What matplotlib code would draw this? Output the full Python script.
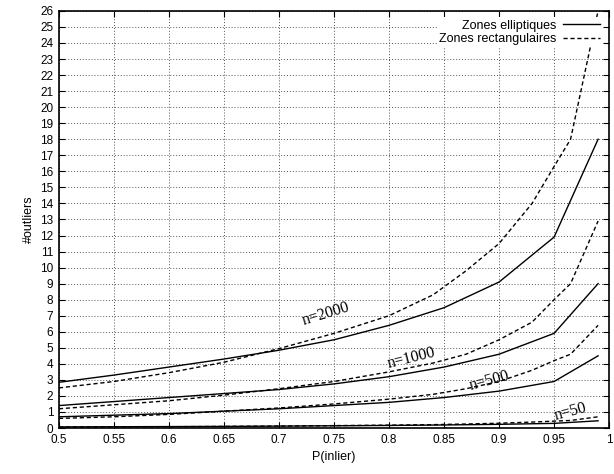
import matplotlib
matplotlib.use("Agg")
import matplotlib.pyplot as plt

plt.rcParams['font.family'] = 'Liberation Sans'

xs = [0.5, 0.55, 0.6, 0.65, 0.7, 0.75, 0.8, 0.85, 0.9, 0.95, 0.99]
ell_2000 = [2.85, 3.3, 3.8, 4.3, 4.85, 5.5, 6.4, 7.5, 9.1, 11.9, 18.0]
ell_1000 = [1.4, 1.65, 1.9, 2.15, 2.4, 2.75, 3.2, 3.8, 4.6, 5.9, 9.0]
ell_500 = [0.7, 0.8, 0.9, 1.05, 1.2, 1.4, 1.6, 1.9, 2.3, 2.9, 4.5]
ell_50 = [0.07, 0.08, 0.09, 0.1, 0.12, 0.14, 0.16, 0.19, 0.23, 0.29, 0.45]

xr = [0.5, 0.55, 0.6, 0.65, 0.7, 0.75, 0.8, 0.84, 0.87, 0.9, 0.93, 0.95, 0.965, 0.99]
rect_2000 = [2.5, 2.9, 3.45, 4.1, 4.95, 5.9, 7.0, 8.3, 9.8, 11.5, 14.0, 16.3, 18.0, 26.0]
rect_1000 = [1.2, 1.45, 1.7, 2.05, 2.45, 2.9, 3.5, 4.05, 4.6, 5.5, 6.6, 8.0, 9.0, 12.9]
rect_500 = [0.6, 0.7, 0.85, 1.05, 1.25, 1.5, 1.8, 2.1, 2.45, 2.9, 3.6, 4.2, 4.6, 6.4]
rect_50 = [0.06, 0.07, 0.08, 0.1, 0.12, 0.15, 0.18, 0.21, 0.25, 0.3, 0.37, 0.43, 0.47, 0.7]

fig = plt.figure(figsize=(6.14, 4.74), dpi=100)
ax = fig.add_axes([0.096, 0.097, 0.896, 0.88])

for i, y in enumerate([ell_2000, ell_1000, ell_500, ell_50]):
    ax.plot(xs, y, color='black', lw=1.0, ls='-', label='Zones elliptiques' if i == 0 else None)
for i, y in enumerate([rect_2000, rect_1000, rect_500, rect_50]):
    ax.plot(xr, y, color='black', lw=1.0, ls=(0, (3, 2)), label='Zones rectangulaires' if i == 0 else None)

labels = [("n=2000", 0.745, 6.6, 17), ("n=1000", 0.822, 3.85, 14), ("n=500", 0.893, 2.45, 15), ("n=50", 0.967, 0.5, 15)]
for t, x, y, r in labels:
    ax.text(x, y, t, rotation=r, family='Liberation Serif', fontsize=11.5, ha='center', va='bottom', rotation_mode='anchor')

ax.set_xlim(0.5, 1.0)
ax.set_ylim(0, 26)
ax.set_xticks([0.5, 0.55, 0.6, 0.65, 0.7, 0.75, 0.8, 0.85, 0.9, 0.95, 1.0])
ax.set_xticklabels(['0.5', '0.55', '0.6', '0.65', '0.7', '0.75', '0.8', '0.85', '0.9', '0.95', '1'])
ax.set_yticks(range(0, 27))
ax.grid(True, ls=(0, (1, 2)), color='#555555', lw=0.7)
ax.tick_params(direction='in', top=True, right=True, labelsize=8.5, length=4, pad=4)
ax.set_xlabel('P(inlier)', fontsize=9)
ax.set_ylabel('#outliers', fontsize=9)
for s in ax.spines.values():
    s.set_linewidth(1.2)

leg = ax.legend(loc='upper right', frameon=True, fontsize=9, handlelength=3,
                markerfirst=False, borderpad=0.2, labelspacing=0.1, handletextpad=0.5)
leg.get_frame().set_facecolor('white')
leg.get_frame().set_edgecolor('none')
leg.get_frame().set_alpha(1)

fig.savefig('out.png', dpi=100)
